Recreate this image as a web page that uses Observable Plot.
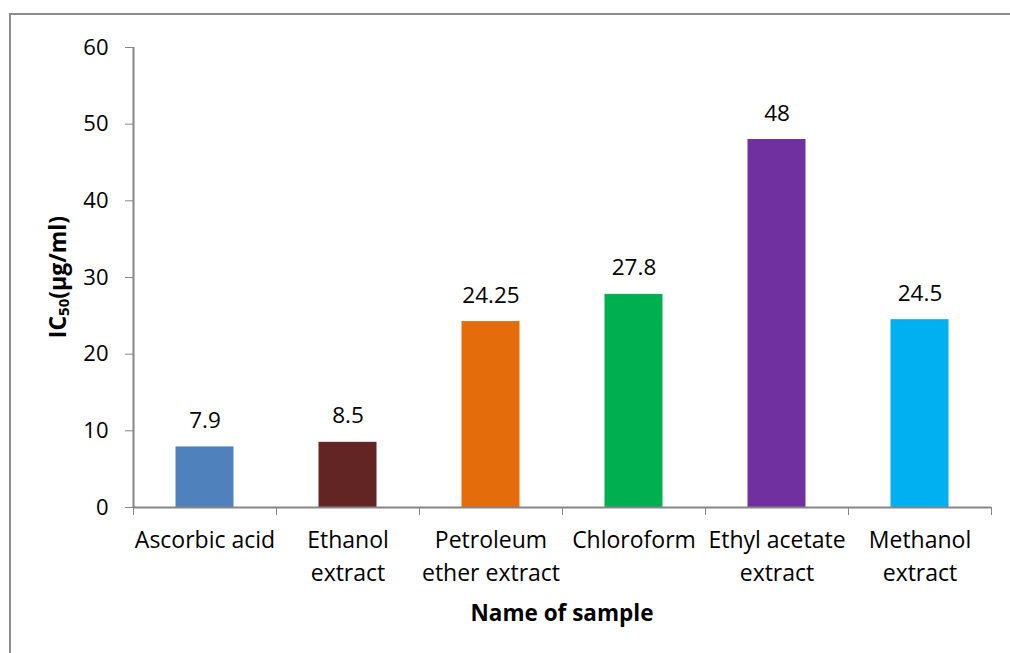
<!DOCTYPE html>
<html>
<head>
<meta charset="utf-8">
<script src="https://cdn.jsdelivr.net/npm/d3@7"></script>
<script src="https://cdn.jsdelivr.net/npm/@observablehq/plot@0.6"></script>
<style>
  html, body { margin: 0; padding: 0; background: #fff; }
  #wrap { position: relative; width: 1010px; height: 653px; overflow: hidden; font-family: "Open Sans", Lato, sans-serif; }
  #frame { position: absolute; left: 9px; top: 13px; width: 1100px; height: 700px; border-left: 2px solid #8c8c8c; border-top: 2px solid #8c8c8c; box-sizing: border-box; }
  #chart { position: absolute; left: 0; top: 0; }
  #ylab { position: absolute; left: 57px; top: 277px; transform: translate(-50%, -50%) rotate(-90deg); font-weight: bold; font-size: 23px; white-space: nowrap; color: #000; }
  #ylab sub { font-size: 15px; vertical-align: -3px; line-height: 0; }
  #xlab { position: absolute; left: 562px; top: 612px; transform: translate(-50%, -50%); font-weight: bold; font-size: 22.5px; white-space: nowrap; color: #000; }
</style>
</head>
<body>
<div id="wrap">
  <div id="frame"></div>
  <div id="chart"></div>
  <div id="ylab">IC<sub>50</sub>(µg/ml)</div>
  <div id="xlab">Name of sample</div>
</div>
<script>
const categories = ["Ascorbic acid", "Ethanol\nextract", "Petroleum\nether extract", "Chloroform", "Ethyl acetate\nextract", "Methanol\nextract"];
const values = [7.9, 8.5, 24.25, 27.8, 48, 24.5];
const valueLabels = ["7.9", "8.5", "24.25", "27.8", "48", "24.5"];
const colors = ["#4F81BD", "#632523", "#E46C0A", "#00B050", "#7030A0", "#00B0F0"];
const yTicks = [0, 10, 20, 30, 40, 50, 60];

const data = categories.map((c, i) => ({cat: c, i, v: values[i], label: valueLabels[i], color: colors[i]}));
const boundaries = d3.range(categories.length + 1);

const plot = Plot.plot({
  width: 1010,
  height: 653,
  marginLeft: 133,
  marginRight: 19,
  marginTop: 47,
  marginBottom: 146,
  style: {fontFamily: "'Open Sans', Lato, sans-serif", fontSize: "22px", color: "#000", background: "transparent"},
  x: {type: "linear", domain: [0, categories.length]},
  y: {domain: [0, 60]},
  marks: [
    Plot.rectY(data, {x1: "i", x2: d => d.i + 1, y: "v", fill: "color", insetLeft: 42.5, insetRight: 42.5}),
    Plot.text(data, {x: d => d.i + 0.5, y: "v", text: "label", lineAnchor: "bottom", dy: -19, fill: "#000", fontSize: 22.5}),
    Plot.text(data, {x: d => d.i + 0.5, y: () => 0, text: "cat", lineAnchor: "top", dy: 18, lineHeight: 1.4, fill: "#000", fontSize: 23}),
    Plot.ruleX([0], {stroke: "#868686", strokeWidth: 2}),
    Plot.ruleY([0], {stroke: "#868686", strokeWidth: 2}),
    Plot.axisY({ticks: yTicks, tickSize: 8, tickPadding: 17, stroke: "#868686", fill: "#000", label: null, fontSize: 22}),
    Plot.axisX({ticks: boundaries, tickSize: 8, tickFormat: () => "", stroke: "#868686", label: null})
  ]
});
document.getElementById("chart").appendChild(plot);
</script>
</body>
</html>
